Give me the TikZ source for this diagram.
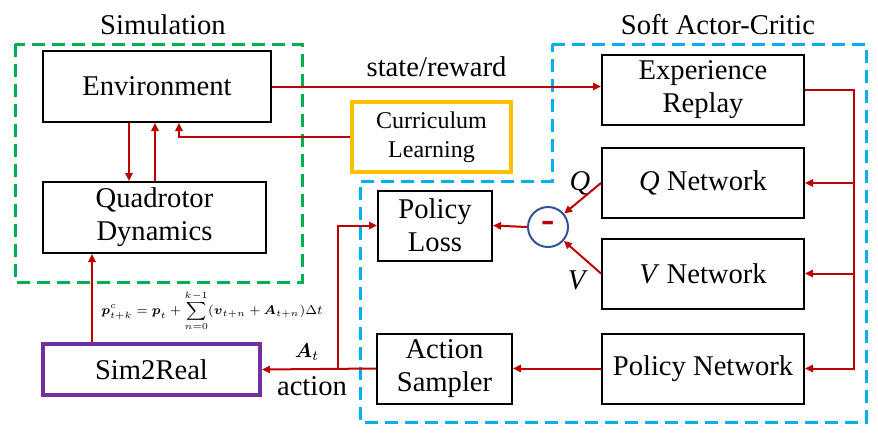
\documentclass[tikz,border=0pt]{standalone}
\usepackage{amsmath}
\usepackage{graphicx}
\usepackage{fontspec}
\setmainfont{Liberation Serif}
\usetikzlibrary{arrows.meta}
\definecolor{flowred}{RGB}{192,0,0}
\definecolor{simgreen}{RGB}{0,176,80}
\definecolor{sacblue}{RGB}{0,176,240}
\definecolor{currorange}{RGB}{255,192,0}
\definecolor{realpurple}{RGB}{112,48,160}
\definecolor{minusblue}{RGB}{47,85,151}
\newcommand{\boxfont}{\fontsize{14.3}{16.5}\selectfont}
\newcommand{\smallboxfont}{\fontsize{12}{14.5}\selectfont}

\begin{document}
\begin{tikzpicture}[x=0.5pt,y=-0.5pt,
	box/.style={draw,line width=1pt,inner sep=0pt,align=center,minimum width=101pt,minimum height=35pt,font=\boxfont},
	flow/.style={draw=flowred,line width=1pt,-{Triangle[length=4pt,width=3.6pt]}},
	group/.style={line width=1.5pt,dash pattern=on 6.5pt off 3.5pt}]

	\useasboundingbox (0,0) rectangle (878,440);

	% dashed groups
	\draw[group,simgreen] (15,44) rectangle (302,282);
	\draw[group,sacblue] (552,44) -- (866,44) -- (866,422) -- (360,422) -- (360,181) -- (552,181) -- cycle;
	\node[font=\boxfont] (simtitle) at (163,25) {Simulation};
	\node[font=\boxfont] (sactitle) at (718,25) {Soft Actor-Critic};

	% simulation side
	\node[box,minimum width=114pt,minimum height=35.5pt] (env) at (157,86.5) {Environment};
	\node[box,minimum width=111.5pt,minimum height=35.5pt] (quad) at (154.5,217.5) {Quadrotor\\Dynamics};
	\node[box,draw=currorange,line width=2pt,minimum width=79.5pt,font=\smallboxfont] (curr) at (431.5,137) {Curriculum\\Learning};
	\node[box,draw=realpurple,line width=2pt,minimum width=108.5pt,minimum height=25.5pt] (sim) at (151.5,369.5) {Sim2Real};

	% soft actor-critic side
	\node[box] (exp) at (703,90) {Experience\\Replay};
	\node[box] (qnet) at (703,183) {\textit{Q} Network};
	\node[box] (vnet) at (703,273.5) {\textit{V} Network};
	\node[box] (pnet) at (703,368.5) {Policy Network};
	\node[box,minimum width=67.5pt] (act) at (444.5,368.5) {Action\\Sampler};
	\node[box,minimum width=57pt] (loss) at (435,225.5) {Policy\\Loss};
	\node[circle,draw=minusblue,line width=1pt,minimum size=20pt,inner sep=0pt,text=flowred,font=\fontsize{20}{20}\bfseries] (minus) at (548,227) {-};

	\coordinate (down) at (129,0);
	\coordinate (up) at (155,0);
	\coordinate (cl) at (179,0);
	\coordinate (bus) at (854,0);
	\coordinate (split) at (338,0);
	\coordinate (s2r) at (92,0);

	\draw[flow] (env.east) -- (env.east -| exp.west) node[midway,above=1pt,text=black,font=\boxfont] {state/reward};
	\draw[flow] (down |- env.south) -- (down |- quad.north);
	\draw[flow] (up |- quad.north) -- (up |- env.south);
	\draw[flow] (curr.west) -| (cl |- env.south);

	\draw[flow] (exp.east) -| (bus |- pnet.east) -- (pnet.east);
	\draw[flow] (bus |- qnet.east) -- (qnet.east);
	\draw[flow] (bus |- vnet.east) -- (vnet.east);

	\draw[flow] (qnet.west) -- (minus);
	\draw[flow] (vnet.west) -- (minus);
	\draw[flow] (minus.west) -- (loss.east);
	\node[font=\boxfont] (qlabel) at (580,183) {\textit{Q}};
	\node[font=\boxfont] (vlabel) at (578,280) {\textit{V}};

	\draw[flow] (pnet.west) -- (act.east);
	\draw[flow] (act.west) -- (sim.east);
	\draw[flow] (split |- act.west) |- (loss.west);
	\node[font=\fontsize{10}{12}\selectfont] (atlabel) at (307,352) {$\boldsymbol{A}_t$};
	\node[font=\boxfont] (actlabel) at (312,386) {action};

	\draw[flow] (s2r |- sim.north) -- (s2r |- quad.south);
	\node[inner sep=0pt,font=\fontsize{7}{8}\selectfont] (pos) at (212,311)
		{\scalebox{0.91}{$\displaystyle \boldsymbol{p}^{c}_{t+k}=\boldsymbol{p}_t+\sum_{n=0}^{k-1}(\boldsymbol{v}_{t+n}+\boldsymbol{A}_{t+n})\Delta t$}};

\end{tikzpicture}
\end{document}
